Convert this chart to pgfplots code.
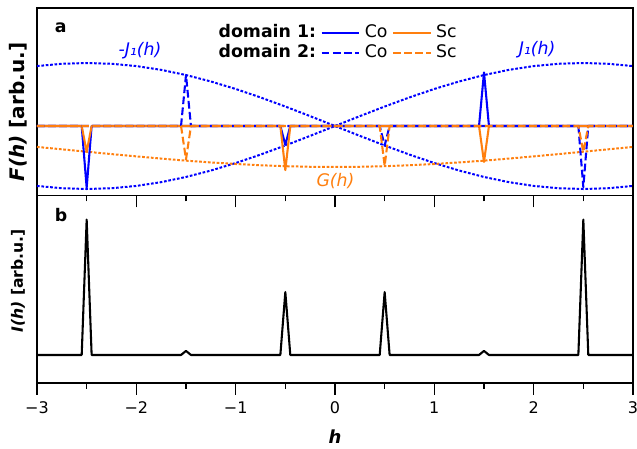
\documentclass[border=0pt]{standalone}
\usepackage{pgfplots}
\pgfplotsset{compat=1.18}
\usepackage{fontspec}
\setmainfont{DejaVu Sans}
\definecolor{cblue}{RGB}{0,0,255}
\definecolor{corange}{RGB}{255,127,14}
\pgfplotsset{
  common/.style={
    scale only axis, width=447pt, height=140.625pt,
    xmin=-3, xmax=3,
    xtick={-3,-2,-1,0,1,2,3},
    minor xtick={-2.5,-1.5,-0.5,0.5,1.5,2.5},
    ytick=\empty,
    xtick pos=left, tick align=outside,
    major tick length=9pt, minor tick length=4.5pt,
    tick style={line width=0.8pt, black},
    axis line style={line width=0.8pt},
    clip=true,
  },
  dotcurve/.style={line width=1.5pt, dash pattern=on 2pt off 1.3pt},
  dline/.style={line width=1.56pt, line join=round},
  dashline/.style={line width=1.56pt, line join=round, dash pattern=on 5.8pt off 2.5pt},
}
\begin{document}
\begin{tikzpicture}
\useasboundingbox (-27.75pt,6pt) rectangle (450pt,-330.75pt);
% ---------------- panel a ----------------
\begin{axis}[common,
  at={(0pt,0pt)}, anchor=north west,
  ymin=-1.103, ymax=1.873,
  xticklabel style={opacity=0},
  ylabel={\textbf{\textit{F(h)} [arb.u.]}},
  ylabel style={at={(axis description cs:-0.032,0.445)}, anchor=center, font=\fontsize{15}{18}\selectfont},
  legend columns=3,
  legend style={at={(0.2965,0.923)}, anchor=north west, draw=none, fill=none,
    inner sep=0pt, column sep=1.5pt, row sep=0pt,
    font=\fontsize{13}{15.6}\selectfont,
    nodes={inner xsep=2pt, inner ysep=1pt, text height=10pt, text depth=3pt}},
  legend image code/.code={\draw[#1] (0pt,0pt) -- (28pt,0pt);},
]
% J1 and -J1 and G curves
\addplot[cblue, dotcurve, forget plot] coordinates {
(-3,-0.9511)(-2.75,-0.9877)(-2.5,-1)(-2.25,-0.9877)(-2,-0.9511)(-1.75,-0.8910)(-1.5,-0.8090)(-1.25,-0.7071)(-1,-0.5878)(-0.75,-0.4540)(-0.5,-0.3090)(-0.25,-0.1564)(0,0)
(0.25,0.1564)(0.5,0.3090)(0.75,0.4540)(1,0.5878)(1.25,0.7071)(1.5,0.8090)(1.75,0.8910)(2,0.9511)(2.25,0.9877)(2.5,1)(2.75,0.9877)(3,0.9511)};
\addplot[cblue, dotcurve, forget plot] coordinates {
(-3,0.9511)(-2.75,0.9877)(-2.5,1)(-2.25,0.9877)(-2,0.9511)(-1.75,0.8910)(-1.5,0.8090)(-1.25,0.7071)(-1,0.5878)(-0.75,0.4540)(-0.5,0.3090)(-0.25,0.1564)(0,0)
(0.25,-0.1564)(0.5,-0.3090)(0.75,-0.4540)(1,-0.5878)(1.25,-0.7071)(1.5,-0.8090)(1.75,-0.8910)(2,-0.9511)(2.25,-0.9877)(2.5,-1)(2.75,-0.9877)(3,-0.9511)};
\addplot[corange, dotcurve, forget plot] coordinates {
(-3,-0.332)(-2.75,-0.370)(-2.5,-0.408)(-2.25,-0.446)(-2,-0.482)(-1.75,-0.517)(-1.5,-0.550)(-1.25,-0.578)(-1,-0.603)(-0.75,-0.623)(-0.5,-0.638)(-0.25,-0.647)(0,-0.650)
(0.25,-0.647)(0.5,-0.638)(0.75,-0.623)(1,-0.603)(1.25,-0.578)(1.5,-0.550)(1.75,-0.517)(2,-0.482)(2.25,-0.446)(2.5,-0.408)(2.75,-0.370)(3,-0.332)};
% legend + domain data
\addlegendimage{empty legend}\addlegendentry{\textbf{domain 1:}}
\addplot[cblue, dline] coordinates {
(-3,0)(-2.55,0)(-2.5,-0.98)(-2.45,0)(-0.55,0)(-0.5,-0.30)(-0.45,0)(1.45,0)(1.5,0.85)(1.55,0)(3,0)};
\addlegendentry{Co}
\addplot[corange, dline] coordinates {
(-3,0)(-2.55,0)(-2.5,-0.41)(-2.45,0)(-0.55,0)(-0.5,-0.70)(-0.45,0)(1.45,0)(1.5,-0.57)(1.55,0)(3,0)};
\addlegendentry{Sc}
\addlegendimage{empty legend}\addlegendentry{\textbf{domain 2:}}
\addplot[cblue, dashline] coordinates {
(-3,0)(-1.55,0)(-1.5,0.81)(-1.45,0)(0.45,0)(0.5,-0.31)(0.55,0)(2.45,0)(2.5,-0.97)(2.55,0)(3,0)};
\addlegendentry{Co}
\addplot[corange, dashline] coordinates {
(-3,0)(-1.55,0)(-1.5,-0.53)(-1.45,0)(0.45,0)(0.5,-0.63)(0.55,0)(2.45,0)(2.5,-0.41)(2.55,0)(3,0)};
\addlegendentry{Sc}
\node[anchor=base west, font=\bfseries\fontsize{13}{15}\selectfont] at (rel axis cs:0.022,0.87) {a};
\node[cblue, font=\itshape\fontsize{13}{15}\selectfont] at (axis cs:-1.963,1.19) {-J₁(h)};
\node[cblue, font=\itshape\fontsize{13}{15}\selectfont] at (axis cs:2.034,1.206) {J₁(h)};
\node[corange, font=\itshape\fontsize{13}{15}\selectfont] at (axis cs:0.005,-0.88) {G(h)};
\end{axis}
% ---------------- panel b ----------------
\begin{axis}[common,
  at={(0pt,-140.625pt)}, anchor=north west,
  ymin=-0.207, ymax=1.178,
  xticklabels={−3,−2,−1,0,1,2,3},
  xticklabel style={font=\fontsize{12}{14}\selectfont, yshift=-1.5pt},
  ylabel={\textbf{\textit{I(h)} [arb.u.]}},
  ylabel style={at={(axis description cs:-0.032,0.544)}, anchor=center, font=\fontsize{11.7}{14}\selectfont},
  xlabel={\textbf{\textit{h}}},
  xlabel style={at={(axis description cs:0.5,-0.288)}, anchor=center, font=\fontsize{13.5}{16}\selectfont},
]
\addplot[black, dline] coordinates {
(-3,0)(-2.55,0)(-2.5,1.0)(-2.45,0)(-1.55,0)(-1.5,0.03)(-1.45,0)(-0.55,0)(-0.5,0.465)(-0.45,0)(0.45,0)(0.5,0.465)(0.55,0)(1.45,0)(1.5,0.03)(1.55,0)(2.45,0)(2.5,1.0)(2.55,0)(3,0)};
\node[anchor=base west, font=\bfseries\fontsize{13}{15}\selectfont] at (rel axis cs:0.022,0.86) {b};
\end{axis}
\end{tikzpicture}
\end{document}
